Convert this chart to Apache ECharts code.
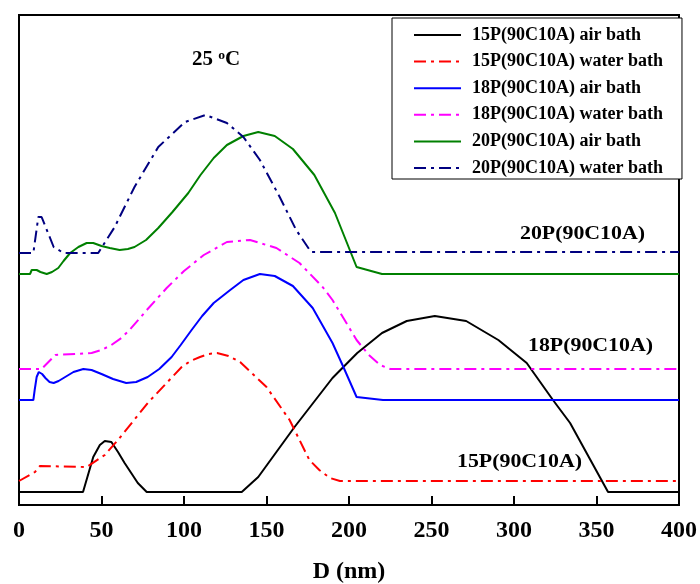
<!DOCTYPE html>
<html>
<head>
<meta charset="utf-8">
<script src="https://cdn.jsdelivr.net/npm/echarts@6/dist/echarts.min.js"></script>
<style>
  html, body { margin: 0; padding: 0; background: #fff; }
  #chart { width: 700px; height: 584px; }
</style>
</head>
<body>
<div id="chart"></div>
<script>
// D (nm) vs. intensity (arbitrary, offset curves)
var seriesNames = [
  "15P(90C10A) air bath",
  "15P(90C10A) water bath",
  "18P(90C10A) air bath",
  "18P(90C10A) water bath",
  "20P(90C10A) air bath",
  "20P(90C10A) water bath"
];
var xTicks = [0, 50, 100, 150, 200, 250, 300, 350, 400];

var air15 = [[0,13],[38.8,13],[45,48],[49,60],[52,64],[56,63],[60,53],[64,42],[68,32],[72,22],[77.4,13],[135,13],[145,28],[167,78],
  [190,127],[205,152],[220,172],[235,184],[252,189],[271,184],[290.5,165],[307.7,142],[323.6,105],[334,82],[357,13],[400,13]];
var water15 = [[0,24],[9.7,33],[12.7,39],[41,38],[52,50],[60,65],[78,102],[98.6,138],[104,144],[109.7,148],[115,151],[120,152],
  [127,149],[134,143],[150,118],[164,85],[176,45],[182,35],[188.5,27],[194.5,24],[400,24]];
var air18 = [[0,105],[8.7,105],[9.5,115],[10.7,128],[12,133],[14,131],[16,127],[18.5,123],[21,122],[24,124],[28,128],
  [33,133],[39,136],[44,135],[50,131],[57,126],[65,122],[71,123],[78,128],[85,136],[92.5,148],[98,160],[104.6,175],
  [111,189],[118,202],[128,215],[136,225],[146,231],[155,229],[166,219],[178,197],[190,162],[196.6,138],[204.6,108],
  [220.6,105],[400,105]];
var water18 = [[0,136],[13.7,136],[22,150],[44,152],[50,155],[56,160],[62,167],[67,175],[78,196],[89.5,217],[100,234],
  [112,250],[126,263],[140,265],[156,257],[170,242],[184,218],[190,205],[204.6,165],[212,150],[218.8,140],[225,136],[400,136]];
var air20 = [[0,231],[6.7,231],[7.7,235],[10.7,235],[13,233],[16.8,231],[20,233],[23.8,237],[27,244],[31,252],[36,258],
  [41,262],[45,262],[50,259],[55,257],[61,255],[66,256],[70,258],[77,265],[84.4,277],[93,293],[102.6,312],[110,330],
  [118,347],[126,360],[136,369],[145,373],[155,369],[166,356],[179,330],[191.5,292],[204.6,238],[220,231],[400,231]];
var water20 = [[0,252],[8.7,252],[11.7,288],[13.7,288],[21,258],[27,252],[48,252],[58,278],[70,318],[84.4,358],
  [100.6,383],[113,390],[126,382],[136,368],[146,345],[158,308],[168,275],[177,253],[400,253]];

var seriesData = [air15, water15, air18, water18, air20, water20];
var colors = ["#000000", "#ff0000", "#0000ff", "#ff00ff", "#008000", "#000080"];
var dashed = [false, true, false, true, false, true];

var FONT = "Liberation Serif";
var myChart = echarts.init(document.getElementById("chart"));

var series = [];
for (var i = 0; i < seriesData.length; i++) {
  series.push({
    name: seriesNames[i],
    type: "line",
    data: seriesData[i],
    symbol: "none",
    smooth: false,
    lineStyle: {
      color: colors[i],
      width: 2,
      type: dashed[i] ? [12, 5, 3, 5] : "solid"
    },
    itemStyle: { color: colors[i] }
  });
}

var option = {
  animation: false,
  backgroundColor: "#ffffff",
  grid: {
    left: 19, right: 21, top: 15, bottom: 79,
    outerBoundsMode: "none",
    containLabel: false,
    show: true,
    borderColor: "#000",
    borderWidth: 2,
    backgroundColor: "transparent"
  },
  legend: {
    orient: "vertical",
    left: 392,
    top: 18,
    data: seriesNames,
    itemWidth: 47,
    itemHeight: 16,
    itemGap: 8.6,
    padding: [8, 19, 2, 21],
    backgroundColor: "#fff",
    borderColor: "#000",
    borderWidth: 1,
    itemStyle: { color: "rgba(0,0,0,0)", borderColor: "rgba(0,0,0,0)", borderWidth: 0, opacity: 0 },
    textStyle: {
      fontFamily: FONT,
      fontWeight: "bold",
      fontSize: 18,
      lineHeight: 16,
      color: "#000",
      padding: [0, 0, 0, 6]
    }
  },
  xAxis: {
    type: "value",
    min: 0,
    max: 400,
    interval: 50,
    name: "D (nm)",
    nameLocation: "middle",
    nameGap: 55,
    nameTextStyle: { fontFamily: FONT, fontWeight: "bold", fontSize: 24, color: "#000" },
    axisLine: { show: true, lineStyle: { color: "#000", width: 2 } },
    axisTick: { show: true, inside: true, length: 9, lineStyle: { color: "#000", width: 2 } },
    axisLabel: { fontFamily: FONT, fontWeight: "bold", fontSize: 24, color: "#000", margin: 14 },
    splitLine: { show: false }
  },
  yAxis: {
    type: "value",
    min: 0,
    max: 490,
    axisLine: { show: true, lineStyle: { color: "#000", width: 2 } },
    axisTick: { show: false },
    axisLabel: { show: false },
    splitLine: { show: false }
  },
  graphic: [
    {
      type: "text", left: 192, top: 49, scaleX: 1.05,
      style: {
        text: "{a|25 }{s|o}{a|C}",
        rich: {
          a: { fontFamily: FONT, fontWeight: "bold", fontSize: 20, fill: "#000" },
          s: { fontFamily: FONT, fontWeight: "bold", fontSize: 13, fill: "#000", verticalAlign: "top", padding: [0, 0, 9, 0] }
        }
      }
    },
    { type: "text", left: 520, top: 225, scaleX: 1.15, style: { text: "20P(90C10A)", fontFamily: FONT, fontWeight: "bold", fontSize: 19, fill: "#000" } },
    { type: "text", left: 528, top: 337, scaleX: 1.15, style: { text: "18P(90C10A)", fontFamily: FONT, fontWeight: "bold", fontSize: 19, fill: "#000" } },
    { type: "text", left: 457, top: 453, scaleX: 1.15, style: { text: "15P(90C10A)", fontFamily: FONT, fontWeight: "bold", fontSize: 19, fill: "#000" } }
  ],
  series: series
};

myChart.setOption(option, true);
window.addEventListener("resize", function () {
  myChart.resize();
});
</script>
</body>
</html>
